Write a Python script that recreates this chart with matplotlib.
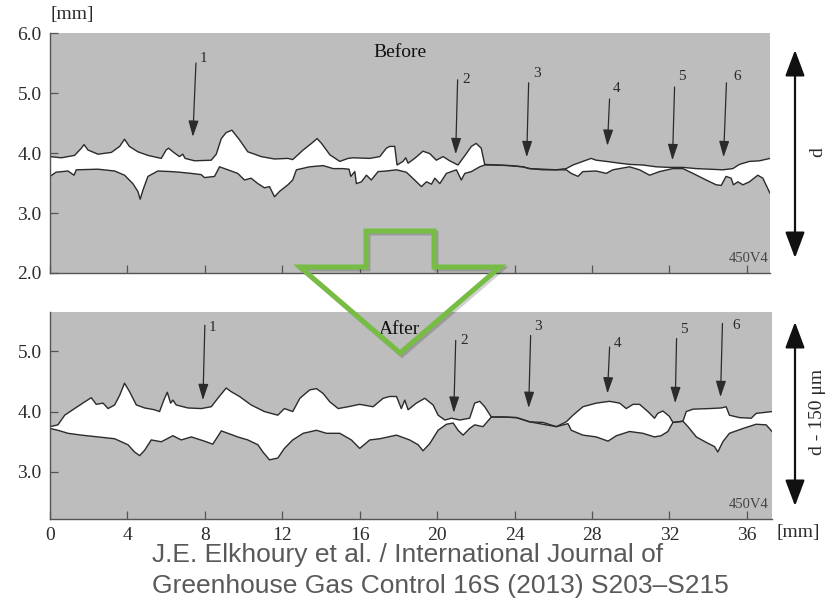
import numpy as np
import matplotlib
matplotlib.use("Agg")
import matplotlib.pyplot as plt
from matplotlib.patches import Polygon
from matplotlib.transforms import Affine2D

# ---- data (mm along the fracture, aperture walls in mm) ----
before_top_x = [0.0, 0.58, 1.27, 1.62, 1.76, 1.96, 2.48, 3.17, 3.6, 3.85, 4.1, 4.54, 5.06, 5.75,
                6.0, 6.13, 6.35, 6.69, 6.86, 6.98, 7.47, 8.33, 8.59, 8.85, 9.1, 9.4, 9.79, 10.22,
                10.57, 10.91, 11.6, 12.29, 12.54, 13.08, 13.51, 13.8, 14.03, 14.46, 14.97, 15.4,
                15.66, 16.52, 17.04, 17.38, 17.55, 17.81, 17.93, 18.24, 18.38, 18.5, 18.84, 19.27,
                19.62, 19.96, 20.31, 20.65, 21.08, 21.51, 21.77, 22.02, 22.28, 22.46, 23.06, 23.74,
                24.43, 24.78, 25.47, 26.16, 26.67, 27.02, 27.53, 27.96, 28.22, 28.74, 29.43, 29.94,
                30.63, 31.32, 32.0, 32.7, 33.39, 34.07, 34.76, 35.28, 35.62, 36.14, 36.66, 37.2]
before_top_y = [3.94, 3.92, 3.96, 4.08, 4.14, 4.05, 3.98, 4.01, 4.11, 4.23, 4.11, 4.02, 3.96, 3.91,
                4.05, 4.08, 4.02, 3.94, 3.98, 3.91, 3.87, 3.88, 3.98, 4.24, 4.34, 4.38, 4.22, 4.02,
                3.98, 3.94, 3.90, 3.91, 3.89, 4.05, 4.16, 4.24, 4.16, 3.97, 3.86, 3.91,
                3.92, 3.91, 3.94, 4.08, 4.11, 4.11, 3.80, 3.86, 3.92, 3.83, 3.91, 4.03,
                3.99, 3.88, 3.94, 3.87, 3.80, 3.99, 4.11, 4.16, 4.08, 3.81, 3.80, 3.79,
                3.77, 3.74, 3.72, 3.72, 3.74, 3.80, 3.86, 3.91, 3.88, 3.86, 3.83, 3.81,
                3.80, 3.77, 3.76, 3.76, 3.74, 3.73, 3.72, 3.74, 3.81, 3.86, 3.87, 3.91]

before_bot_x = [0.0, 0.31, 0.93, 1.24, 1.36, 2.48, 3.34, 3.85, 4.28, 4.54, 4.66, 4.8, 5.06, 5.57,
                6.26, 6.69, 7.3, 7.81, 7.98, 8.5, 8.76, 9.19, 9.7, 10.05, 10.39, 10.74, 11.08,
                11.34, 11.6, 11.86, 12.29, 12.54, 12.73, 13.42, 14.11, 14.63, 15.14, 15.45, 15.54,
                15.75, 15.83, 16.09, 16.35, 16.6, 16.95, 17.38, 17.9, 18.41, 18.84, 19.19, 19.45,
                19.71, 19.88, 20.14, 20.48, 21.0, 21.25, 21.43, 21.77, 22.2, 22.46, 23.06, 23.74,
                24.43, 24.78, 26.16, 26.67, 26.93, 27.28, 27.53, 28.22, 28.74, 29.08, 29.94, 30.46,
                30.98, 31.49, 32.18, 32.7, 33.22, 33.9, 34.42, 34.68, 34.93, 35.19, 35.31, 35.54,
                35.8, 36.14, 36.57, 36.83, 37.2]
before_bot_y = [3.61, 3.68, 3.70, 3.63, 3.72, 3.73, 3.70, 3.63, 3.49, 3.36, 3.23, 3.38, 3.61, 3.70,
                3.69, 3.68, 3.66, 3.64, 3.59, 3.61, 3.77, 3.72, 3.66, 3.55, 3.58, 3.49, 3.42,
                3.44, 3.27, 3.36, 3.47, 3.55, 3.72, 3.77, 3.79, 3.74, 3.74, 3.73, 3.61,
                3.69, 3.49, 3.52, 3.63, 3.55, 3.69, 3.70, 3.72, 3.68, 3.55, 3.44, 3.52,
                3.48, 3.58, 3.49, 3.66, 3.72, 3.55, 3.66, 3.69, 3.77, 3.80, 3.80, 3.79,
                3.77, 3.74, 3.72, 3.72, 3.66, 3.61, 3.69, 3.70, 3.66, 3.72, 3.77, 3.72,
                3.63, 3.69, 3.74, 3.74, 3.66, 3.55, 3.47, 3.46, 3.61, 3.58, 3.47, 3.52,
                3.47, 3.52, 3.63, 3.58, 3.33]

after_top_x = [0.0, 0.41, 0.76, 1.27, 1.79, 2.13, 2.39, 2.74, 3.0, 3.34, 3.6, 3.85, 4.11, 4.46,
               4.89, 5.4, 5.66, 5.88, 6.06, 6.23, 6.35, 6.52, 7.12, 7.81, 8.33, 8.67, 9.1, 9.36,
               9.79, 10.39, 11.08, 11.77, 12.11, 12.54, 12.91, 13.42, 13.77, 14.11, 14.46, 14.89,
               15.4, 16.0, 16.69, 17.21, 17.55, 17.9, 18.15, 18.33, 18.5, 18.93, 19.36, 19.79,
               20.05, 20.4, 20.74, 21.17, 21.68, 21.94, 22.2, 22.46, 22.8, 23.41, 24.1, 24.78,
               25.47, 26.16, 26.67, 27.02, 27.53, 28.22, 28.91, 29.43, 29.77, 30.12, 30.46, 30.89,
               31.23, 31.4, 31.66, 32.0, 32.18, 32.7, 32.87, 33.22, 34.07, 34.68, 34.93, 35.1,
               35.62, 36.23, 36.48, 37.3]
after_top_y = [3.75, 3.78, 3.94, 4.05, 4.16, 4.23, 4.12, 4.14, 4.05, 4.11, 4.27, 4.47, 4.33, 4.11,
               4.06, 4.03, 4.00, 4.19, 4.32, 4.14, 4.19, 4.11, 4.06, 4.05, 4.08, 4.22, 4.39, 4.33,
               4.25, 4.11, 4.00, 3.94, 4.05, 4.00, 4.22, 4.36, 4.38, 4.30, 4.16, 4.05,
               4.08, 4.12, 4.08, 4.22, 4.25, 4.25, 4.05, 4.19, 4.03, 4.14, 4.22, 4.11,
               3.94, 3.86, 3.89, 3.86, 3.89, 4.14, 4.17, 4.08, 3.91, 3.91, 3.90, 3.83,
               3.82, 3.75, 3.83, 3.94, 4.08, 4.14, 4.17, 4.14, 4.05, 4.12, 4.12, 4.00,
               3.89, 3.97, 4.01, 3.92, 3.82, 3.84, 4.00, 4.04, 4.05, 4.06, 4.08, 3.94,
               3.90, 3.89, 3.97, 4.00]

after_bot_x = [0.0, 0.41, 0.93, 1.62, 2.48, 3.34, 4.03, 4.37, 4.63, 4.89, 5.23, 5.75, 6.35, 6.78,
               7.3, 7.98, 8.41, 8.85, 9.19, 9.7, 10.22, 10.74, 11.0, 11.34, 11.77, 12.11, 12.54,
               13.08, 13.77, 14.28, 14.97, 15.57, 16.0, 16.52, 17.04, 17.9, 18.58, 19.02, 19.27,
               19.62, 20.05, 20.48, 20.83, 21.08, 21.34, 21.68, 21.94, 22.37, 22.8, 23.41, 24.1,
               24.78, 26.16, 26.76, 26.93, 27.53, 28.22, 28.83, 29.26, 29.94, 30.63, 31.23, 31.57,
               31.92, 32.18, 32.7, 32.96, 33.39, 33.9, 34.33, 34.5, 34.76, 35.1, 35.8, 36.48,
               37.0, 37.3]
after_bot_y = [3.72, 3.69, 3.64, 3.61, 3.58, 3.55, 3.45, 3.33, 3.27, 3.36, 3.53, 3.50, 3.60, 3.53,
               3.58, 3.51, 3.46, 3.68, 3.64, 3.58, 3.53, 3.45, 3.33, 3.20, 3.23, 3.39, 3.53,
               3.64, 3.69, 3.64, 3.64, 3.53, 3.39, 3.53, 3.55, 3.61, 3.53, 3.45, 3.35,
               3.47, 3.69, 3.79, 3.81, 3.69, 3.61, 3.72, 3.78, 3.75, 3.91, 3.91, 3.90,
               3.83, 3.75, 3.80, 3.69, 3.61, 3.58, 3.51, 3.60, 3.67, 3.64, 3.58, 3.60,
               3.67, 3.82, 3.84, 3.75, 3.58, 3.49, 3.42, 3.33, 3.50, 3.64, 3.72, 3.79,
               3.78, 3.67]

# numbered arrows: label, (x, y) tail, (x, y) head, (x, y) label
marks_before = [("1", (7.54, 5.50), (7.38, 4.27), (7.95, 5.58)),
                ("2", (21.06, 5.22), (20.96, 3.98), (21.50, 5.23)),
                ("3", (24.73, 5.17), (24.63, 3.93), (25.14, 5.33)),
                ("4", (28.91, 4.90), (28.80, 4.12), (29.27, 5.07)),
                ("5", (32.27, 5.10), (32.16, 3.88), (32.63, 5.27)),
                ("6", (34.95, 5.17), (34.80, 3.93), (35.50, 5.28))]
marks_after = [("1", (8.00, 5.43), (7.90, 4.19), (8.42, 5.40)),
               ("2", (20.96, 5.18), (20.86, 3.98), (21.40, 5.18)),
               ("3", (24.83, 5.26), (24.73, 4.06), (25.20, 5.41)),
               ("4", (28.91, 5.07), (28.80, 4.30), (29.30, 5.13)),
               ("5", (32.37, 5.21), (32.30, 4.14), (32.73, 5.36)),
               ("6", (34.74, 5.46), (34.64, 4.24), (35.47, 5.43))]

x_ticks = list(range(0, 37, 4))

W, H = 832, 602
BG = "#bdbdbd"
INK = "#2b2b2b"
SERIF = "Liberation Serif"


def draw_panel(ax, top_x, top_y, bot_x, bot_y, marks, ylim, yticks, title, title_y):
    ax.set_facecolor(BG)
    # white gap between the two walls
    ax.fill(np.concatenate([top_x, bot_x[::-1]]), np.concatenate([top_y, bot_y[::-1]]),
            color="white", lw=0, zorder=1)
    ax.plot(top_x, top_y, color=INK, lw=1.0, zorder=2)
    ax.plot(bot_x, bot_y, color=INK, lw=1.0, zorder=2)
    for lab, tail, head, pos in marks:
        ax.annotate("", xy=head, xytext=tail,
                    arrowprops=dict(arrowstyle="-|>,head_length=0.7,head_width=0.22",
                                    color=INK, lw=0.9, mutation_scale=14,
                                    shrinkA=0, shrinkB=0), zorder=3)
        ax.text(pos[0], pos[1], lab, fontsize=11, family=SERIF, color=INK,
                ha="center", va="center")
    ax.text(18.07, title_y, title, fontsize=14, family=SERIF, color="#111",
            ha="center", va="center")
    ax.text(37.1, ylim[0] + 0.13, "450V4", fontsize=10.5, family=SERIF, color="#444",
            ha="right", va="bottom")
    ax.set_ylim(*ylim)
    ax.set_yticks(yticks)
    ax.set_yticklabels(["%.1f" % v for v in yticks])
    ax.set_xticks(x_ticks)
    for s in ("top", "right"):
        ax.spines[s].set_visible(False)
    for s in ("left", "bottom"):
        ax.spines[s].set_color("#555")
        ax.spines[s].set_linewidth(1.0)
    ax.tick_params(direction="in", length=6, width=0.9, color="#555",
                   labelsize=14, labelcolor=INK, pad=6)
    for t in ax.get_xticklabels() + ax.get_yticklabels():
        t.set_family(SERIF)


def main():
    fig = plt.figure(figsize=(W / 100, H / 100), dpi=100)

    ax1 = fig.add_axes([50 / W, 1 - 273 / H, 720 / W, 240 / H])
    ax1.set_xlim(0, 37.2)
    draw_panel(ax1, before_top_x, before_top_y, before_bot_x, before_bot_y,
               marks_before, (2.0, 6.0), [2.0, 3.0, 4.0, 5.0, 6.0], "Before", 5.67)
    ax1.tick_params(labelbottom=False)

    ax2 = fig.add_axes([50 / W, 1 - 519 / H, 722 / W, 207 / H])
    ax2.set_xlim(0, 37.3)
    draw_panel(ax2, after_top_x, after_top_y, after_bot_x, after_bot_y,
               marks_after, (2.22, 5.65), [3.0, 4.0, 5.0], "After", 5.36)

    # figure-level texts, in pixel units from the top-left corner
    px = Affine2D().scale(1 / W, -1 / H).translate(0, 1) + fig.transFigure
    fig.text(50, 15, "[mm]", transform=px, fontsize=14, family=SERIF, color=INK,
             ha="left", va="center")
    fig.text(776, 533, "[mm]", transform=px, fontsize=14, family=SERIF, color=INK,
             ha="left", va="center")
    fig.text(818, 152, "d", transform=px, fontsize=14, family=SERIF, color=INK,
             ha="center", va="center", rotation=90)
    fig.text(818, 412, "d - 150 \u03bcm", transform=px, fontsize=14, family=SERIF,
             color=INK, ha="center", va="center", rotation=90)

    # two-headed arrows on the right
    for y0, y1 in ((50, 258), (322, 506)):
        fig.add_artist(matplotlib.patches.FancyArrowPatch(
            (795, y0), (795, y1), transform=px,
            arrowstyle="<|-|>,head_length=0.8,head_width=0.3", mutation_scale=20,
            color="#111", lw=1.6, shrinkA=0, shrinkB=0))

    # citation
    cite = dict(transform=px, fontsize=19, family="Liberation Sans", color="#595959",
                ha="left", va="center")
    fig.text(152, 555, "J.E. Elkhoury et al. / International Journal of", **cite)
    fig.text(152, 586, "Greenhouse Gas Control 16S (2013) S203\u2013S215", **cite)

    # big green outlined arrow between the panels
    shape = [(366, 231), (434, 231), (434, 267), (500, 267), (400, 353),
             (300, 267), (366, 267)]
    shadow = Affine2D().translate(2, 2)
    fig.add_artist(Polygon(shape, closed=True, fill=False, ec="#000000", lw=3.6,
                           alpha=0.18, joinstyle="miter", transform=shadow + px, zorder=9))
    fig.add_artist(Polygon(shape, closed=True, fill=False, ec="#77bd43", lw=3.6,
                           joinstyle="miter", transform=px, zorder=10))

    fig.savefig("out.png", dpi=100)


if __name__ == '__main__':
    main()
